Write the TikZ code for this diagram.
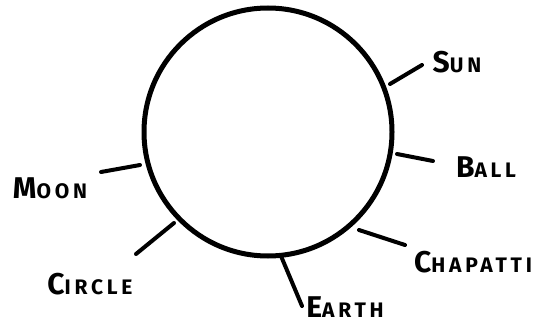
\documentclass[tikz,border=0pt]{standalone}
\usepackage{fontspec}
\setmainfont{Fira Sans}[LetterSpace=18]
\newcommand\hcap[2]{{\fontsize{30}{30}\selectfont #1}{\fontsize{21}{21}\selectfont #2}}
\tikzset{
  ring/.style={draw=black, line width=5pt},
  tick/.style={draw=black, line width=4pt, line cap=round},
  lbl/.style={inner sep=0pt, font=\bfseries}
}
\begin{document}
\begin{tikzpicture}[x=1pt, y=-1pt]
\useasboundingbox (0,0) rectangle (538,326);
\fill[white] (0,0) rectangle (538,326);
\draw[ring] (268,132) circle (124);
\node[lbl] (sun) at (457,62) {\hcap{S}{UN}};
\node[lbl] (ball) at (486,167) {\hcap{B}{ALL}};
\node[lbl, anchor=west] (chap) at (414,262) {\hcap{C}{HAPATTI}};
\node[lbl] (earth) at (345,307) {\hcap{E}{ARTH}};
\node[lbl] (circ) at (90,284) {\hcap{C}{IRCLE}};
\node[lbl] (moon) at (50,188) {\hcap{M}{OON}};
\coordinate (sunA) at (390,84);  \coordinate (sunB) at (422,65);
\coordinate (ballA) at (397,154); \coordinate (ballB) at (433,161);
\coordinate (chapA) at (359,230); \coordinate (chapB) at (405,245);
\coordinate (earthA) at (281,256); \coordinate (earthB) at (302,306);
\coordinate (circA) at (174,223); \coordinate (circB) at (136,254);
\coordinate (moonA) at (140,165); \coordinate (moonB) at (101,172);
\draw[tick] (sunA) -- (sunB);
\draw[tick] (ballA) -- (ballB);
\draw[tick] (chapA) -- (chapB);
\draw[tick] (earthA) -- (earthB);
\draw[tick] (circA) -- (circB);
\draw[tick] (moonA) -- (moonB);
\end{tikzpicture}
\end{document}
